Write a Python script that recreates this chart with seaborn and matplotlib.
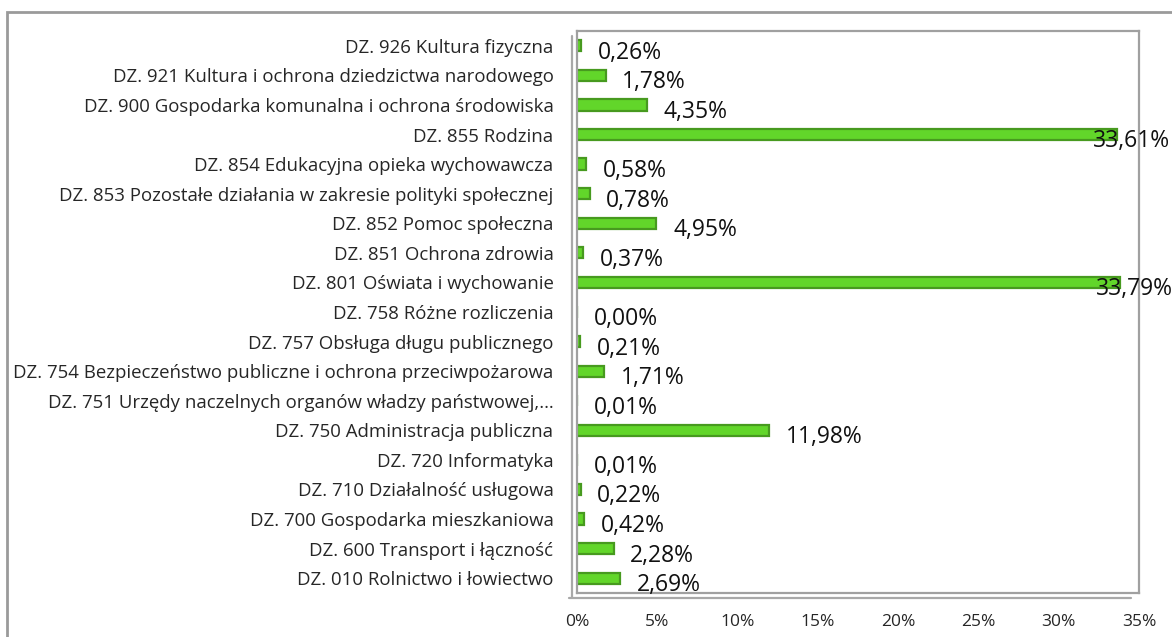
import matplotlib
matplotlib.use("Agg")
import matplotlib.pyplot as plt
import seaborn as sns
import pandas as pd
from matplotlib.ticker import PercentFormatter
from matplotlib.patches import Rectangle
from matplotlib.lines import Line2D

# data (share of expenses, %)
kategorie = [
    "DZ. 926 Kultura fizyczna",
    "DZ. 921 Kultura i ochrona dziedzictwa narodowego",
    "DZ. 900 Gospodarka komunalna i ochrona środowiska",
    "DZ. 855 Rodzina",
    "DZ. 854 Edukacyjna opieka wychowawcza",
    "DZ. 853 Pozostałe działania w zakresie polityki społecznej",
    "DZ. 852 Pomoc społeczna",
    "DZ. 851 Ochrona zdrowia",
    "DZ. 801 Oświata i wychowanie",
    "DZ. 758 Różne rozliczenia",
    "DZ. 757 Obsługa długu publicznego",
    "DZ. 754 Bezpieczeństwo publiczne i ochrona przeciwpożarowa",
    "DZ. 751 Urzędy naczelnych organów władzy państwowej,…",
    "DZ. 750 Administracja publiczna",
    "DZ. 720 Informatyka",
    "DZ. 710 Działalność usługowa",
    "DZ. 700 Gospodarka mieszkaniowa",
    "DZ. 600 Transport i łączność",
    "DZ. 010 Rolnictwo i łowiectwo",
]
udzial = [0.26, 1.78, 4.35, 33.61, 0.58, 0.78, 4.95, 0.37, 33.79, 0.00,
          0.21, 1.71, 0.01, 11.98, 0.01, 0.22, 0.42, 2.28, 2.69]

df = pd.DataFrame({"Dzial": kategorie, "Udzial": udzial})

sns.set_style("white")
plt.rcParams["font.family"] = ["Open Sans", "DejaVu Sans"]

W, H = 1172, 637
fig = plt.figure(figsize=(W / 100, H / 100), dpi=100)

# outer chart border (runs off the right and bottom edge)
fig.patches.append(Rectangle((7 / W, -0.05), 1.1, 1 - 12 / H + 0.05,
                             transform=fig.transFigure, fill=False,
                             edgecolor="#9a9a9a", linewidth=2, zorder=0))

ax = fig.add_axes([577 / W, 1 - 593 / H, (1139 - 577) / W, (593 - 31) / H])

sns.barplot(data=df, x="Udzial", y="Dzial", ax=ax, color="#62d62a",
            edgecolor="#479a1f", linewidth=1.6, width=0.38, saturation=1)

ax.set_xlim(0, 35)
ax.set_xticks(range(0, 36, 5))
ax.xaxis.set_major_formatter(PercentFormatter(decimals=0))
ax.set_xlabel("")
ax.set_ylabel("")
ax.tick_params(axis="x", length=0, pad=15, labelsize=12.5)
ax.tick_params(axis="y", length=0, pad=17, labelsize=13.4)

for s in ax.spines.values():
    s.set_color("#a0a0a0")
    s.set_linewidth(1.6)

# pseudo 3d: front edge of the wall and the floor
fig.lines.append(Line2D([572 / W, 572 / W], [1 - 597 / H, 1 - 36 / H],
                        transform=fig.transFigure, color="#a8a8a8", lw=1.6))
fig.lines.append(Line2D([569 / W, 1131 / W], [1 - 598 / H, 1 - 598 / H],
                        transform=fig.transFigure, color="#a8a8a8", lw=1.6))

# value labels, Polish decimal comma
for i, v in enumerate(udzial):
    txt = f"{v:.2f}".replace(".", ",") + "%"
    off = 12 if v < 30 else -17
    ax.annotate(txt, (v, i), xytext=(off, -5), textcoords="offset points",
                ha="left", va="center", fontsize=16.5, color="#111111",
                annotation_clip=False)

fig.savefig("out.png", dpi=100)
